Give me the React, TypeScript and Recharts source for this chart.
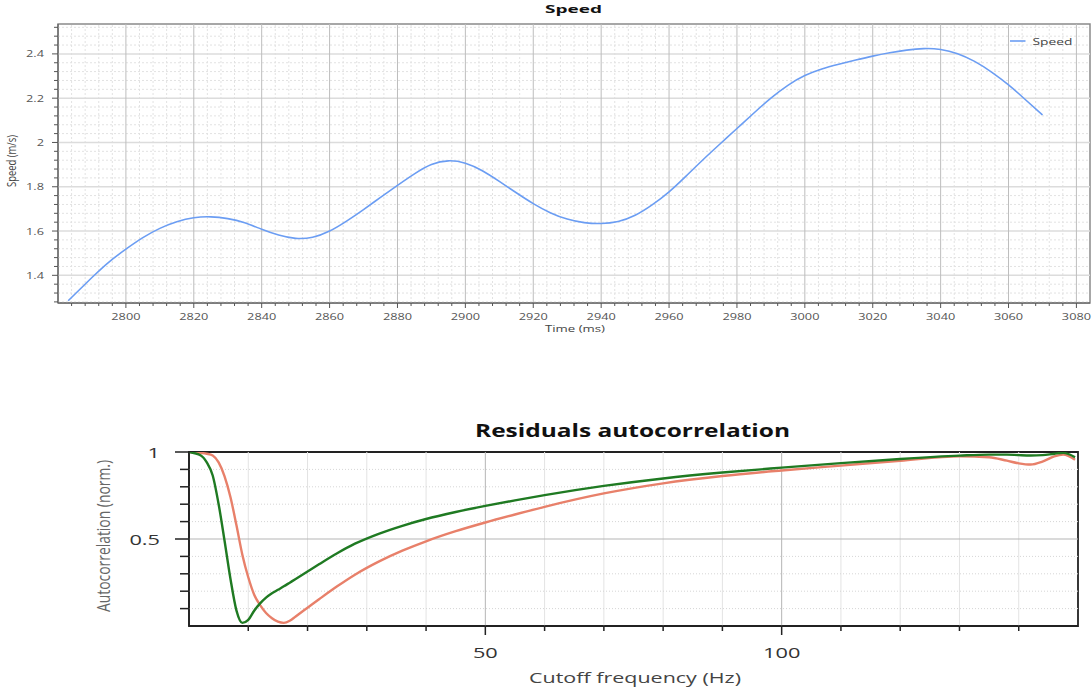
import React from 'react';
import { LineChart, Line, XAxis, YAxis, ReferenceLine, ReferenceArea, Legend } from 'recharts';

const FONT = "'Open Sans', 'Noto Sans', 'DejaVu Sans', sans-serif";

// ---------- Speed chart data ----------
const speedTimes = [
  2783, 2790, 2795, 2800, 2805, 2810, 2815, 2820, 2825, 2830, 2835, 2840, 2845, 2850, 2855,
  2860, 2865, 2870, 2875, 2880, 2885, 2890, 2895, 2900, 2905, 2910, 2915, 2920, 2925, 2930,
  2935, 2940, 2945, 2950, 2955, 2960, 2965, 2970, 2975, 2980, 2985, 2990, 2995, 3000, 3005,
  3010, 3015, 3020, 3025, 3030, 3035, 3040, 3045, 3050, 3055, 3060, 3065, 3070,
];
const speedValues = [
  1.285, 1.39, 1.46, 1.518, 1.57, 1.612, 1.642, 1.66, 1.664, 1.656, 1.637, 1.608, 1.582, 1.567, 1.572,
  1.6, 1.645, 1.697, 1.752, 1.806, 1.858, 1.9, 1.917, 1.906, 1.872, 1.824, 1.773, 1.724, 1.683, 1.654,
  1.638, 1.634, 1.643, 1.671, 1.718, 1.777, 1.848, 1.922, 1.993, 2.063, 2.133, 2.2, 2.258, 2.302, 2.332,
  2.353, 2.372, 2.39, 2.405, 2.417, 2.424, 2.42, 2.401, 2.366, 2.318, 2.26, 2.193, 2.124,
];
const speedXMajor = [2800, 2820, 2840, 2860, 2880, 2900, 2920, 2940, 2960, 2980, 3000, 3020, 3040, 3060, 3080];
const speedYMajor = [1.4, 1.6, 1.8, 2.0, 2.2, 2.4];
const speedYLabels = ['1.4', '1.6', '1.8', '2', '2.2', '2.4'];

// ---------- Autocorrelation chart data ----------
const cutoffFreqs = [
  0, 2, 3, 4, 5, 6, 7, 8, 9, 10, 11, 12, 13, 14, 15, 16, 17, 18, 20, 22, 25, 28, 32, 36, 40, 45,
  50, 55, 60, 70, 80, 90, 100, 110, 120, 130, 135, 138, 140, 142, 144, 146, 147.5, 149.5,
];
const greenValues = [
  1.0, 0.98, 0.94, 0.865, 0.7, 0.49, 0.27, 0.09, 0.018, 0.035, 0.088, 0.13, 0.163, 0.188, 0.208, 0.228,
  0.249, 0.27, 0.313, 0.356, 0.418, 0.473, 0.53, 0.576, 0.615, 0.655, 0.69, 0.722, 0.752, 0.805, 0.848,
  0.882, 0.91, 0.936, 0.96, 0.979, 0.985, 0.985, 0.982, 0.98, 0.982, 0.99, 0.995, 0.97,
];
const redValues = [
  1.0, 0.995, 0.99, 0.98, 0.94, 0.86, 0.74, 0.58, 0.41, 0.28, 0.18, 0.12, 0.075, 0.045, 0.025, 0.018,
  0.03, 0.055, 0.105, 0.155, 0.228, 0.295, 0.37, 0.433, 0.487, 0.545, 0.595, 0.641, 0.685, 0.762, 0.82,
  0.862, 0.894, 0.922, 0.95, 0.975, 0.97, 0.95, 0.935, 0.928, 0.945, 0.975, 0.985, 0.955,
];
const autoXTicks = [10, 20, 30, 40, 50, 60, 70, 80, 90, 100, 110, 120, 130, 140];
const autoXLabels: Record<number, string> = { 50: '50', 100: '100' };
const autoYTicks = [0.1, 0.2, 0.3, 0.4, 0.5, 0.6, 0.7, 0.8, 0.9, 1.0];
const autoYLabels: Record<string, string> = { '0.5': '0.5', '1': '1' };

// ---------- derived tables ----------
const speedData = speedTimes.map((t, i) => ({ t, speed: speedValues[i] }));
const autoData = cutoffFreqs.map((f, i) => ({ f, green: greenValues[i], red: redValues[i] }));

const speedXAll: number[] = [];
for (let v = 2784; v <= 3080; v += 4) speedXAll.push(v);
const speedYAll: number[] = [];
for (let k = 32; k <= 63; k++) speedYAll.push(Math.round(k * 4) / 100);
const isMajorX = (v: number) => v % 20 === 0;
const isMajorY = (v: number) => {
  const t = Math.round(v * 100);
  return t % 20 === 0;
};
const yLabelFor = (v: number) => {
  const idx = speedYMajor.findIndex((m) => Math.abs(m - v) < 1e-6);
  return idx >= 0 ? speedYLabels[idx] : '';
};

const SPEED_COLOR = '#6b9df3';
const GREEN = '#1f7a22';
const RED = '#e8806a';

const TopXTick = (props: any) => {
  const { x, y, payload } = props;
  const v = payload.value;
  const major = isMajorX(v);
  return (
    <g>
      <line x1={x} x2={x} y1={y} y2={y + (major ? 5 : 3)} stroke="#555" />
      {major && (
        <text
          transform={`translate(${x},${y + 17}) scale(1.5,1)`}
          textAnchor="middle"
          fontSize={8.5}
          fill="#555"
          fontFamily={FONT}
        >
          {v}
        </text>
      )}
    </g>
  );
};

const TopYTick = (props: any) => {
  const { x, y, payload } = props;
  const v = payload.value;
  const major = isMajorY(v);
  return (
    <g>
      <line x1={x - (major ? 6 : 4)} x2={x} y1={y} y2={y} stroke="#555" />
      {major && (
        <text
          transform={`translate(${x - 14},${y}) scale(1.5,1)`}
          textAnchor="end"
          dominantBaseline="central"
          fontSize={8.5}
          fill="#555"
          fontFamily={FONT}
        >
          {yLabelFor(v)}
        </text>
      )}
    </g>
  );
};

const BotXTick = (props: any) => {
  const { x, y, payload } = props;
  const v = payload.value;
  const label = autoXLabels[v];
  return (
    <g>
      <line x1={x} x2={x} y1={y} y2={y + (label ? 9 : 5)} stroke="#222" strokeWidth={1.5} />
      {label && (
        <text
          transform={`translate(${x},${y + 32}) scale(1.45,1)`}
          textAnchor="middle"
          fontSize={15}
          fill="#333"
          fontFamily={FONT}
        >
          {label}
        </text>
      )}
    </g>
  );
};

const BotYTick = (props: any) => {
  const { x, y, payload } = props;
  const v = payload.value;
  const key = String(Math.round(v * 10) / 10);
  const label = autoYLabels[key];
  return (
    <g>
      <line x1={x - (label ? 14 : 9)} x2={x} y1={y} y2={y} stroke="#222" strokeWidth={1.5} />
      {label && (
        <text
          transform={`translate(${x - 29},${y}) scale(1.45,1)`}
          textAnchor="end"
          dominantBaseline="central"
          fontSize={15}
          fill="#333"
          fontFamily={FONT}
        >
          {label}
        </text>
      )}
    </g>
  );
};

const SpeedLegend = () => (
  <svg width={80} height={16} style={{ display: 'block' }}>
    <line x1={5} x2={20.5} y1={8} y2={8} stroke={SPEED_COLOR} strokeWidth={1.6} />
    <text
      transform="translate(27.5,11.5) scale(1.45,1)"
      fontSize={9.5}
      fill="#444"
      fontFamily={FONT}
    >
      Speed
    </text>
  </svg>
);

export default function App() {
  return (
    <div
      style={{
        position: 'absolute',
        left: 0,
        top: 0,
        width: 1092,
        height: 693,
        background: '#fff',
        overflow: 'hidden',
        fontFamily: FONT,
      }}
    >
      <div style={{ position: 'absolute', left: 0, top: 0 }}>
        <LineChart width={1092} height={340} data={speedData} margin={{ top: 24, right: 2, bottom: 0, left: 0 }}>
          <XAxis
            dataKey="t"
            type="number"
            domain={[2780, 3084]}
            ticks={speedXAll}
            interval={0}
            tickSize={0}
            tickMargin={0}
            tickLine={false}
            tick={TopXTick}
            height={37}
            axisLine={{ stroke: '#555' }}
            allowDataOverflow
          />
          <YAxis
            type="number"
            domain={[1.275, 2.535]}
            ticks={speedYAll}
            interval={0}
            tickSize={0}
            tickMargin={0}
            tickLine={false}
            tick={TopYTick}
            width={58}
            axisLine={{ stroke: '#555' }}
            allowDataOverflow
          />
          {speedXAll.filter((v) => !isMajorX(v)).map((v) => (
            <ReferenceLine key={'mx' + v} x={v} stroke="#e2e2e2" strokeDasharray="2 2" />
          ))}
          {speedYAll.filter((v) => !isMajorY(v)).map((v) => (
            <ReferenceLine key={'my' + v} y={v} stroke="#e2e2e2" strokeDasharray="2 2" />
          ))}
          {speedYMajor.map((v) => (
            <ReferenceLine key={'My' + v} y={v} stroke="#dcdcdc" strokeWidth={1.5} />
          ))}
          {speedXMajor.map((v) => (
            <ReferenceLine key={'Mx' + v} x={v} stroke="#bdbdbd" />
          ))}
          <ReferenceArea x1={2780} x2={3084} y1={1.275} y2={2.535} fill="none" stroke="#8a8a8a" strokeWidth={1.5} />
          <Line
            type="natural"
            dataKey="speed"
            name="Speed"
            stroke={SPEED_COLOR}
            strokeWidth={1.6}
            dot={false}
            activeDot={false}
            isAnimationActive={false}
          />
          <Legend
            layout="horizontal"
            verticalAlign="middle"
            align="center"
            wrapperStyle={{ position: 'absolute', left: 1005, top: 33, width: 80, height: 16 }}
            content={() => <SpeedLegend />}
          />
        </LineChart>
      </div>

      <div style={{ position: 'absolute', left: 0, top: 400 }}>
        <LineChart width={1092} height={293} data={autoData} margin={{ top: 52, right: 14, bottom: 0, left: 0 }}>
          <XAxis
            dataKey="f"
            type="number"
            domain={[0, 150]}
            ticks={autoXTicks}
            interval={0}
            tickSize={0}
            tickMargin={0}
            tickLine={false}
            tick={BotXTick}
            height={67}
            axisLine={{ stroke: '#222', strokeWidth: 1.5 }}
            allowDataOverflow
          />
          <YAxis
            type="number"
            domain={[0, 1]}
            ticks={autoYTicks}
            interval={0}
            tickSize={0}
            tickMargin={0}
            tickLine={false}
            tick={BotYTick}
            width={189}
            axisLine={{ stroke: '#222', strokeWidth: 1.5 }}
            allowDataOverflow
          />
          {autoXTicks.filter((v) => !autoXLabels[v]).map((v) => (
            <ReferenceLine key={'bx' + v} x={v} stroke="#e3e3e3" />
          ))}
          {autoYTicks.filter((v) => Math.abs(v - 0.5) > 1e-6 && v < 0.99).map((v) => (
            <ReferenceLine key={'by' + v} y={v} stroke="#d6d6d6" strokeDasharray="1 2" />
          ))}
          <ReferenceLine x={50} stroke="#b5b5b5" />
          <ReferenceLine x={100} stroke="#b5b5b5" />
          <ReferenceLine y={0.5} stroke="#b5b5b5" />
          <Line type="monotone" dataKey="red" stroke={RED} strokeWidth={2.4} dot={false} activeDot={false} isAnimationActive={false} />
          <Line type="monotone" dataKey="green" stroke={GREEN} strokeWidth={2.4} dot={false} activeDot={false} isAnimationActive={false} />
          <ReferenceArea x1={0} x2={150} y1={0} y2={1} fill="none" stroke="#222" strokeWidth={1.8} />
        </LineChart>
      </div>

      <svg
        width={1092}
        height={693}
        style={{ position: 'absolute', left: 0, top: 0, pointerEvents: 'none' }}
        fontFamily={FONT}
      >
        <text x={573.5} y={13.3} textAnchor="middle" fontSize={11} fontWeight="bold" fill="#111" textLength={57} lengthAdjust="spacingAndGlyphs">
          Speed
        </text>
        <text x={575} y={332} textAnchor="middle" fontSize={9} fill="#444" textLength={60} lengthAdjust="spacingAndGlyphs">
          Time (ms)
        </text>
        <text
          transform="translate(11,161) scale(1.5,1) rotate(-90)"
          textAnchor="middle"
          dominantBaseline="central"
          fontSize={9}
          fill="#444"
          textLength={52}
          lengthAdjust="spacingAndGlyphs"
        >
          Speed (m/s)
        </text>
        <text x={632.5} y={437} textAnchor="middle" fontSize={17} fontWeight="bold" fill="#111" textLength={315} lengthAdjust="spacingAndGlyphs">
          Residuals autocorrelation
        </text>
        <text x={635} y={683} textAnchor="middle" fontSize={15} fill="#444" textLength={212} lengthAdjust="spacingAndGlyphs">
          Cutoff frequency (Hz)
        </text>
        <text
          transform="translate(103,536) scale(1.4,1) rotate(-90)"
          textAnchor="middle"
          dominantBaseline="central"
          fontSize={12.5}
          fill="#666"
          textLength={152}
          lengthAdjust="spacingAndGlyphs"
        >
          Autocorrelation (norm.)
        </text>
      </svg>
    </div>
  );
}
